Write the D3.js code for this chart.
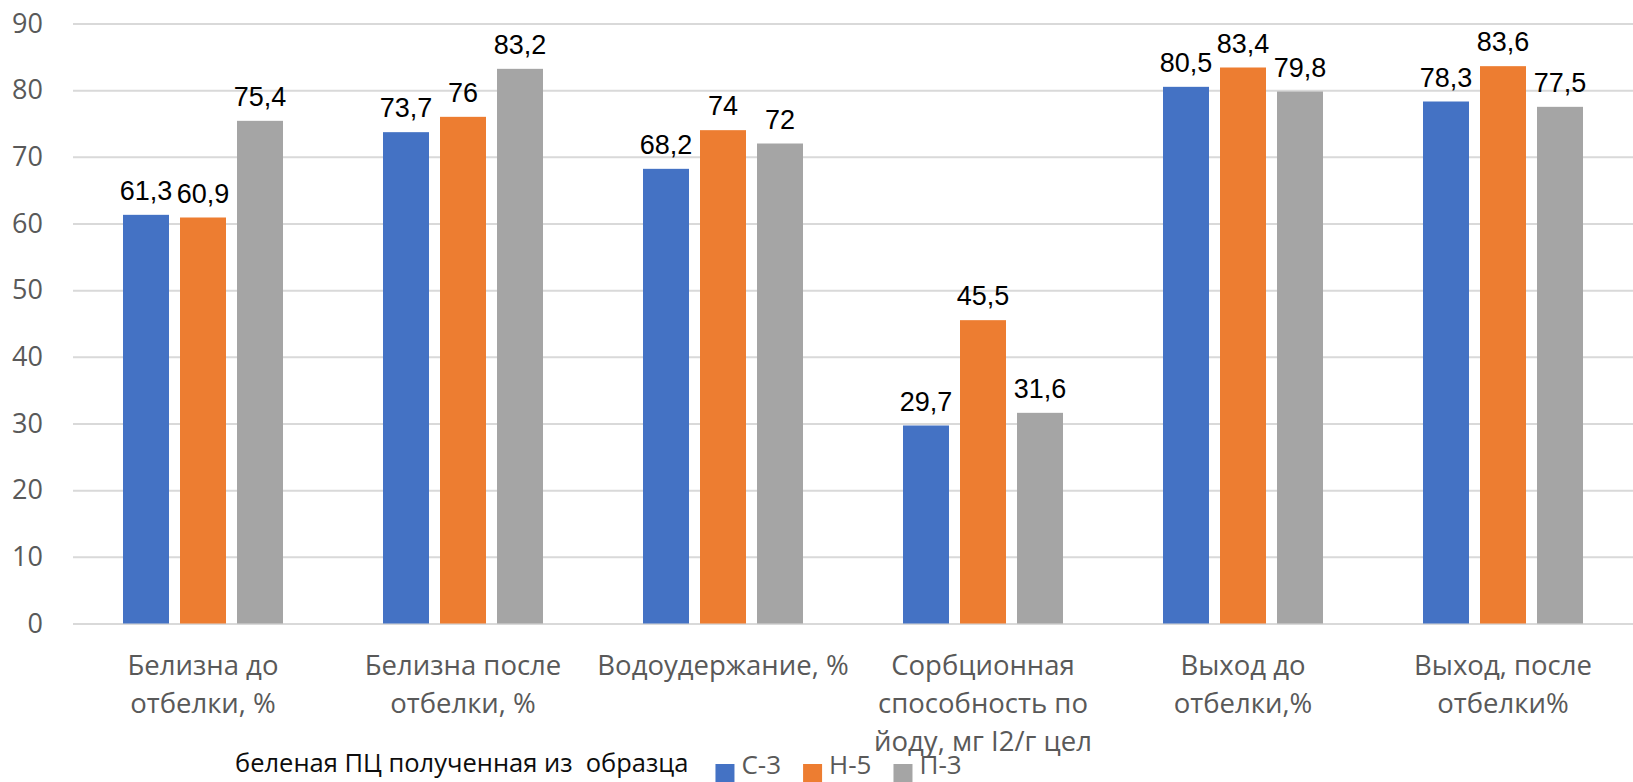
<!DOCTYPE html>
<html>
<head>
<meta charset="utf-8">
<script src="https://cdn.jsdelivr.net/npm/d3@7"></script>
<style>
  html, body { margin: 0; padding: 0; background: #fff; }
  svg { display: block; }
</style>
</head>
<body>
<svg id="chart" width="1633" height="782"></svg>
<script>
// Categories (each entry is the wrapped lines of the axis label)
const categories = [
  ["Белизна до", "отбелки, %"],
  ["Белизна после", "отбелки, %"],
  ["Водоудержание, %"],
  ["Сорбционная", "способность по", "йоду, мг I2/г цел"],
  ["Выход до", "отбелки,%"],
  ["Выход, после", "отбелки%"]
];
const seriesNames = ["С-3", "Н-5", "П-3"];
const valuesC3 = [61.3, 73.7, 68.2, 29.7, 80.5, 78.3];
const valuesH5 = [60.9, 76, 74, 45.5, 83.4, 83.6];
const valuesP3 = [75.4, 83.2, 72, 31.6, 79.8, 77.5];
const yTicks = [0, 10, 20, 30, 40, 50, 60, 70, 80, 90];
const legendTitle = "беленая ПЦ полученная из  образца";

const seriesValues = [valuesC3, valuesH5, valuesP3];
const colors = ["#4472C4", "#ED7D31", "#A5A5A5"];
const uiFont = "'Open Sans', sans-serif";

const svg = d3.select("#chart");
const plot = { left: 73, right: 1633, top: 23.5, bottom: 623.5 };

const x = d3.scaleBand()
  .domain(d3.range(categories.length))
  .range([plot.left, plot.right])
  .paddingInner(0)
  .paddingOuter(0);

const innerPad = 11 / 57; // gap between bars relative to bar step
const xInner = d3.scaleBand()
  .domain(d3.range(seriesNames.length))
  .range([50, x.bandwidth() - 50])
  .paddingInner(innerPad)
  .paddingOuter(0);

const y = d3.scaleLinear().domain([0, 90]).range([plot.bottom, plot.top]);

// horizontal gridlines and value axis labels
const yAxis = d3.axisLeft(y)
  .tickValues(yTicks)
  .tickSize(-(plot.right - plot.left))
  .tickPadding(30)
  .tickFormat(d3.format("d"));

const gy = svg.append("g")
  .attr("transform", `translate(${plot.left},0)`)
  .call(yAxis);
gy.select(".domain").remove();
gy.selectAll(".tick line")
  .attr("stroke", "#d9d9d9")
  .attr("stroke-width", 2);
gy.selectAll(".tick text")
  .attr("fill", "#595959")
  .style("font-family", uiFont)
  .style("font-size", "27px");

// bars
const groups = svg.append("g")
  .selectAll("g")
  .data(categories.map((c, i) => i))
  .join("g")
  .attr("transform", i => `translate(${x(i)},0)`);

groups.selectAll("rect")
  .data(i => seriesValues.map((vals, s) => ({ s, v: vals[i] })))
  .join("rect")
  .attr("x", d => xInner(d.s))
  .attr("width", xInner.bandwidth())
  .attr("y", d => y(d.v))
  .attr("height", d => y(0) - y(d.v))
  .attr("fill", d => colors[d.s]);

// value labels
const fmt = v => String(v).replace(".", ",");
groups.selectAll("text.value")
  .data(i => seriesValues.map((vals, s) => ({ s, v: vals[i] })))
  .join("text")
  .attr("class", "value")
  .attr("x", d => xInner(d.s) + xInner.bandwidth() / 2)
  .attr("y", d => y(d.v) - 15)
  .attr("text-anchor", "middle")
  .attr("fill", "#000")
  .style("font-family", "'Liberation Sans', Arial, sans-serif")
  .style("font-size", "27px")
  .text(d => fmt(d.v));

// category labels
const catLabels = svg.append("g")
  .selectAll("text")
  .data(categories)
  .join("text")
  .attr("x", (d, i) => x(i) + x.bandwidth() / 2)
  .attr("y", plot.bottom + 51.5)
  .attr("text-anchor", "middle")
  .attr("fill", "#595959")
  .style("font-family", uiFont)
  .style("font-size", "27.5px");
catLabels.selectAll("tspan")
  .data(d => d)
  .join("tspan")
  .attr("x", function () { return this.parentNode.getAttribute("x"); })
  .attr("dy", (d, i) => i === 0 ? 0 : 38)
  .text(d => d);

// legend
const legend = svg.append("g");
const title = legend.append("text")
  .attr("x", 235)
  .attr("y", 772)
  .attr("fill", "#0d0d0d")
  .style("font-family", uiFont)
  .style("font-size", "25.5px")
  .style("white-space", "pre")
  .text(legendTitle);

let lx = 235 + title.node().getComputedTextLength() + 27;
seriesNames.forEach((name, s) => {
  legend.append("rect")
    .attr("x", lx)
    .attr("y", 764)
    .attr("width", 19)
    .attr("height", 18)
    .attr("fill", colors[s]);
  const t = legend.append("text")
    .attr("x", lx + 26)
    .attr("y", 774)
    .attr("fill", "#595959")
    .style("font-family", uiFont)
    .style("font-size", "26px")
    .text(name);
  lx += 26 + t.node().getComputedTextLength() + 22;
});
</script>
</body>
</html>
